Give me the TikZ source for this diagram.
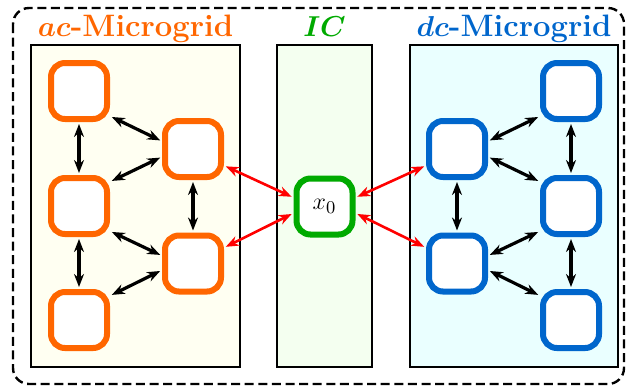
\documentclass[tikz,border=0pt]{standalone}
\usetikzlibrary{arrows.meta}
\definecolor{acorange}{RGB}{255,102,0}
\definecolor{icgreen}{RGB}{0,170,0}
\definecolor{dcblue}{RGB}{0,102,204}
\definecolor{acfill}{RGB}{255,255,242}
\definecolor{icfill}{RGB}{244,255,240}
\definecolor{dcfill}{RGB}{234,255,255}
\tikzset{
  agent/.style={draw, fill=white, rounded corners=7pt, line width=3pt,
    minimum width=28pt, minimum height=28pt, inner sep=0pt},
  acagent/.style={agent, draw=acorange},
  dcagent/.style={agent, draw=dcblue},
  icagent/.style={agent, draw=icgreen, font=\fontsize{12.5}{14}\selectfont},
  gridbox/.style={draw=black, line width=0.75pt},
  title/.style={anchor=base, font=\fontsize{15.5}{18}\selectfont\bfseries},
  link/.style={{Stealth[length=6.5pt,width=5pt]}-{Stealth[length=6.5pt,width=5pt]},
    line width=1.6pt, shorten <=1pt, shorten >=1pt},
  tie/.style={link, draw=red, line width=1.3pt},
}
\begin{document}
\begin{tikzpicture}[x=0.5pt, y=-0.5pt]
\useasboundingbox (0,0) rectangle (630,387);

% outer frame
\draw[line width=1.2pt, dash pattern=on 4.5pt off 2.3pt, rounded corners=8pt]
  (13,8) rectangle (624,384);

% three areas
\draw[gridbox, fill=acfill] (31,45) rectangle (240,367);
\draw[gridbox, fill=icfill] (277,45) rectangle (372,367);
\draw[gridbox, fill=dcfill] (410,45) rectangle (618,367);

\node[title, text=acorange] (tac) at (135.5,36) {{\boldmath$ac$}-Microgrid};
\node[title, text=icgreen] (tic) at (324.5,36) {{\boldmath$IC$}};
\node[title, text=dcblue] (tdc) at (514,36) {{\boldmath$dc$}-Microgrid};

% ac agents
\node[acagent] (a1) at (79,91) {};
\node[acagent] (a3) at (79,206) {};
\node[acagent] (a5) at (79,320) {};
\node[acagent] (a2) at (193,149) {};
\node[acagent] (a4) at (193,263.5) {};

% interlinking converter
\node[icagent] (ic) at (324.5,206.5) {$x_0$};

% dc agents
\node[dcagent] (d1) at (571,91) {};
\node[dcagent] (d3) at (571,206) {};
\node[dcagent] (d5) at (571,320) {};
\node[dcagent] (d2) at (457,149) {};
\node[dcagent] (d4) at (457,263.5) {};

% ac links
\draw[link] (a1.south) -- (a3.north);
\draw[link] (a3.south) -- (a5.north);
\draw[link] (a2.south) -- (a4.north);
\draw[link] (a1.-39) -- (a2.166);
\draw[link] (a3.38) -- (a2.-166);
\draw[link] (a3.-39) -- (a4.166);
\draw[link] (a5.38) -- (a4.-168);

% dc links
\draw[link] (d1.south) -- (d3.north);
\draw[link] (d3.south) -- (d5.north);
\draw[link] (d2.south) -- (d4.north);
\draw[link] (d1.-141) -- (d2.14);
\draw[link] (d3.142) -- (d2.-14);
\draw[link] (d3.-141) -- (d4.14);
\draw[link] (d5.142) -- (d4.-12);

% converter ties
\draw[tie] (a2.-28) -- (ic.164);
\draw[tie] (a4.27) -- (ic.-168);
\draw[tie] (ic.16) -- (d2.-152);
\draw[tie] (ic.-12) -- (d4.153);
\end{tikzpicture}
\end{document}
